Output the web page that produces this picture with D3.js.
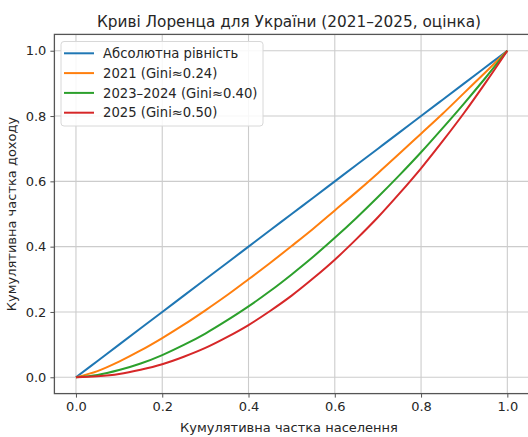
<!DOCTYPE html>
<html><head><meta charset="utf-8">
<script src="https://cdn.jsdelivr.net/npm/d3@7/dist/d3.min.js"></script>
<style>body{margin:0;background:#fff}svg{display:block}text{font-family:"DejaVu Sans",sans-serif;fill:#262626}</style>
</head><body><svg id="c" width="528" height="437"></svg>
<script>
const titleText = "Криві Лоренца для України (2021–2025, оцінка)";
const xLabel = "Кумулятивна частка населення";
const yLabel = "Кумулятивна частка доходу";
const population = [0,0.05,0.1,0.15,0.2,0.25,0.3,0.35,0.4,0.45,0.5,0.55,0.6,0.65,0.7,0.75,0.8,0.85,0.9,0.95,1];
const equality = [0,0.05,0.1,0.15,0.2,0.25,0.3,0.35,0.4,0.45,0.5,0.55,0.6,0.65,0.7,0.75,0.8,0.85,0.9,0.95,1];
const y2021 = [0,0.019,0.048,0.082,0.120,0.161,0.205,0.251,0.300,0.350,0.402,0.455,0.511,0.567,0.625,0.685,0.746,0.807,0.871,0.935,1];
const y2023 = [0,0.007,0.022,0.042,0.068,0.099,0.134,0.174,0.217,0.264,0.315,0.369,0.427,0.488,0.552,0.619,0.689,0.763,0.839,0.918,1];
const y2025 = [0,0.003,0.010,0.023,0.040,0.063,0.090,0.123,0.160,0.203,0.250,0.303,0.360,0.423,0.490,0.563,0.640,0.723,0.810,0.903,1];
const seriesNames = ["Абсолютна рівність","2021 (Gini≈0.24)","2023–2024 (Gini≈0.40)","2025 (Gini≈0.50)"];
const seriesColors = ["#1f77b4","#ff7f0e","#2ca02c","#d62728"];
const ticks = [0,0.2,0.4,0.6,0.8,1.0];

const svg = d3.select("#c");
const L = 54.4, R = 528.9, T = 34.4, B = 393.6;
const x = d3.scaleLinear().domain([-0.05,1.05]).range([L,R]);
const y = d3.scaleLinear().domain([-0.05,1.05]).range([B,T]);

// grid
const g = svg.append("g");
g.selectAll(".gx").data(ticks).enter().append("line")
 .attr("x1",d=>x(d)).attr("x2",d=>x(d)).attr("y1",T).attr("y2",B)
 .attr("stroke","#cccccc").attr("stroke-width",1.1);
g.selectAll(".gy").data(ticks).enter().append("line")
 .attr("y1",d=>y(d)).attr("y2",d=>y(d)).attr("x1",L).attr("x2",R)
 .attr("stroke","#cccccc").attr("stroke-width",1.1);

// lines
const allSeries = [equality,y2021,y2023,y2025];
const line = d3.line().x((d,i)=>x(population[i])).y(d=>y(d)).curve(d3.curveMonotoneX);
allSeries.forEach((s,k)=>{
  svg.append("path").datum(s).attr("d",line).attr("fill","none")
   .attr("stroke",seriesColors[k]).attr("stroke-width",2);
});

// spines
svg.append("rect").attr("x",L).attr("y",T).attr("width",R-L).attr("height",B-T)
 .attr("fill","none").attr("stroke","#555").attr("stroke-width",1.3);

// axes
const fmt = d3.format(".1f");
const xa = svg.append("g").attr("transform",`translate(0,${B})`)
 .call(d3.axisBottom(x).tickValues(ticks).tickFormat(fmt).tickSize(4).tickPadding(4));
const ya = svg.append("g").attr("transform",`translate(${L},0)`)
 .call(d3.axisLeft(y).tickValues(ticks).tickFormat(fmt).tickSize(4).tickPadding(4));
[xa,ya].forEach(a=>{
  a.select(".domain").remove();
  a.selectAll("line").attr("stroke","#555");
  a.selectAll("text").attr("font-size","13px").attr("font-family","DejaVu Sans").attr("fill","#333");
});

// labels
svg.append("text").attr("x",289).attr("y",27).attr("text-anchor","middle")
 .attr("font-size","15.3px").text(titleText);
svg.append("text").attr("x",289).attr("y",432).attr("text-anchor","middle")
 .attr("font-size","13px").text(xLabel);
svg.append("text").attr("transform","translate(16,214) rotate(-90)").attr("text-anchor","middle")
 .attr("font-size","13px").text(yLabel);

// legend
const lg = svg.append("g");
lg.append("rect").attr("x",61).attr("y",41.5).attr("width",202).attr("height",84.5)
 .attr("rx",3).attr("fill","#fff").attr("fill-opacity",0.85).attr("stroke","#d8d8d8");
seriesNames.forEach((n,k)=>{
  const yy = 53.3 + k*19.8;
  lg.append("line").attr("x1",64).attr("x2",94).attr("y1",yy).attr("y2",yy)
   .attr("stroke",seriesColors[k]).attr("stroke-width",2);
  lg.append("text").attr("x",103).attr("y",yy).attr("dy","0.36em")
   .attr("font-size","13.2px").text(n);
});
</script></body></html>
